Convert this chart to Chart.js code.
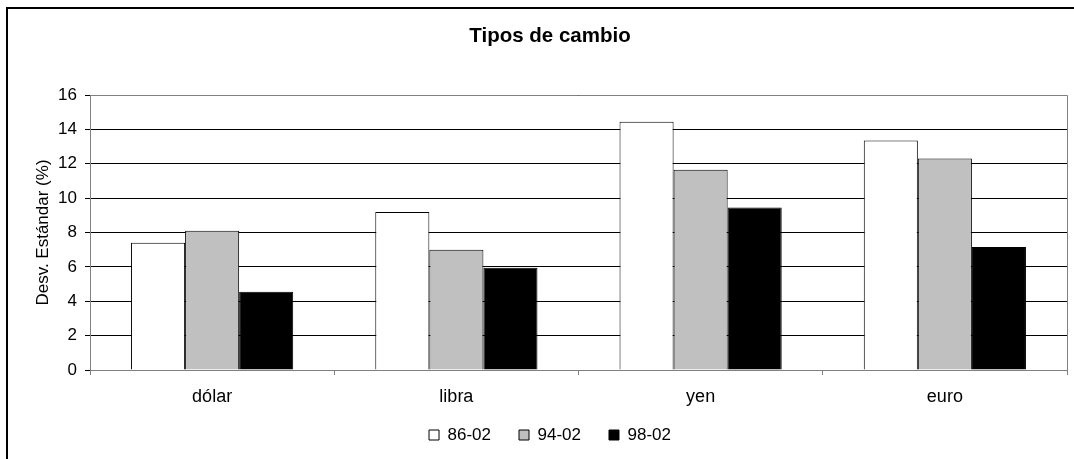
<!DOCTYPE html>
<html>
<head>
<meta charset="utf-8">
<script src="https://cdn.jsdelivr.net/npm/chart.js@4/dist/chart.umd.min.js"></script>
<style>
  html, body { margin: 0; padding: 0; background: #fff; }
  #wrap { width: 1074px; height: 459px; position: relative; }
</style>
</head>
<body>
<div id="wrap"><canvas id="bar-chart"></canvas></div>
<script>
const categories = ["dólar", "libra", "yen", "euro"];
const seriesNames = ["86-02", "94-02", "98-02"];
const values8602 = [7.4, 9.2, 14.45, 13.35];
const values9402 = [8.1, 7.0, 11.65, 12.3];
const values9802 = [4.55, 5.95, 9.45, 7.15];
const yTicks = [0, 2, 4, 6, 8, 10, 12, 14, 16];

const FONT = "'Liberation Sans', Arial, sans-serif";

// frame lines plus gray top/right border of the plot area
const framePlugin = {
  id: "frame",
  afterDraw(chart) {
    const ctx = chart.ctx;
    const a = chart.chartArea;
    ctx.save();
    ctx.strokeStyle = "#808080";
    ctx.lineWidth = 1;
    ctx.beginPath();
    ctx.moveTo(a.left, Math.round(a.top) + 0.5);
    ctx.lineTo(Math.round(a.right) + 0.5, Math.round(a.top) + 0.5);
    ctx.lineTo(Math.round(a.right) + 0.5, a.bottom);
    ctx.stroke();
    ctx.strokeStyle = "#000";
    ctx.lineWidth = 2;
    ctx.beginPath();
    ctx.moveTo(7, chart.height);
    ctx.lineTo(7, 8);
    ctx.lineTo(chart.width, 8);
    ctx.stroke();
    ctx.restore();
  },
};

const ctx = document.getElementById("bar-chart").getContext("2d");

window.myChart = new Chart(ctx, {
  type: "bar",
  data: {
    labels: categories,
    datasets: [
      {
        label: seriesNames[0],
        data: values8602,
        backgroundColor: "#ffffff",
        borderColor: "#000000",
        borderWidth: 1,
      },
      {
        label: seriesNames[1],
        data: values9402,
        backgroundColor: "#c0c0c0",
        borderColor: "#000000",
        borderWidth: 1,
      },
      {
        label: seriesNames[2],
        data: values9802,
        backgroundColor: "#000000",
        borderColor: "#000000",
        borderWidth: 1,
      },
    ],
  },
  options: {
    responsive: true,
    maintainAspectRatio: false,
    animation: false,
    layout: { padding: { left: 33, right: 7, top: 0, bottom: 5.5 } },
    datasets: {
      bar: { categoryPercentage: 0.664, barPercentage: 1.0 },
    },
    scales: {
      x: {
        afterFit: (scale) => {
          scale.height = 28.5;
          // the axis box is short so the legend sits close; don't clip the labels to it
          scale._computeLabelArea = () => null;
        },
        grid: {
          display: true,
          drawOnChartArea: false,
          drawTicks: true,
          tickLength: 5,
          color: "#808080",
        },
        border: { display: true, color: "#808080" },
        ticks: { color: "#000", font: { family: FONT, size: 18 }, padding: 11 },
      },
      y: {
        min: 0,
        max: 16,
        afterFit: (scale) => { scale.width = 57; },
        afterBuildTicks: (scale) => { scale.ticks = yTicks.map((v) => ({ value: v })); },
        grid: { color: "#000", lineWidth: 1, tickLength: 5, tickColor: "#000" },
        border: { display: true, color: "#808080" },
        ticks: { color: "#000", font: { family: FONT, size: 17 }, padding: 8 },
        title: {
          display: true,
          text: "Desv. Estándar (%)",
          color: "#000",
          font: { family: FONT, size: 17 },
          padding: 0,
        },
      },
    },
    plugins: {
      title: {
        display: true,
        text: "Tipos de cambio",
        color: "#000",
        font: { family: FONT, size: 20.5, weight: "bold" },
        padding: { top: 24, bottom: 46.4 },
      },
      legend: {
        position: "bottom",
        labels: {
          color: "#000",
          font: { family: FONT, size: 17 },
          boxWidth: 10,
          boxHeight: 10,
          padding: 28,
        },
      },
      tooltip: { enabled: false },
    },
  },
  plugins: [framePlugin],
});
</script>
</body>
</html>
